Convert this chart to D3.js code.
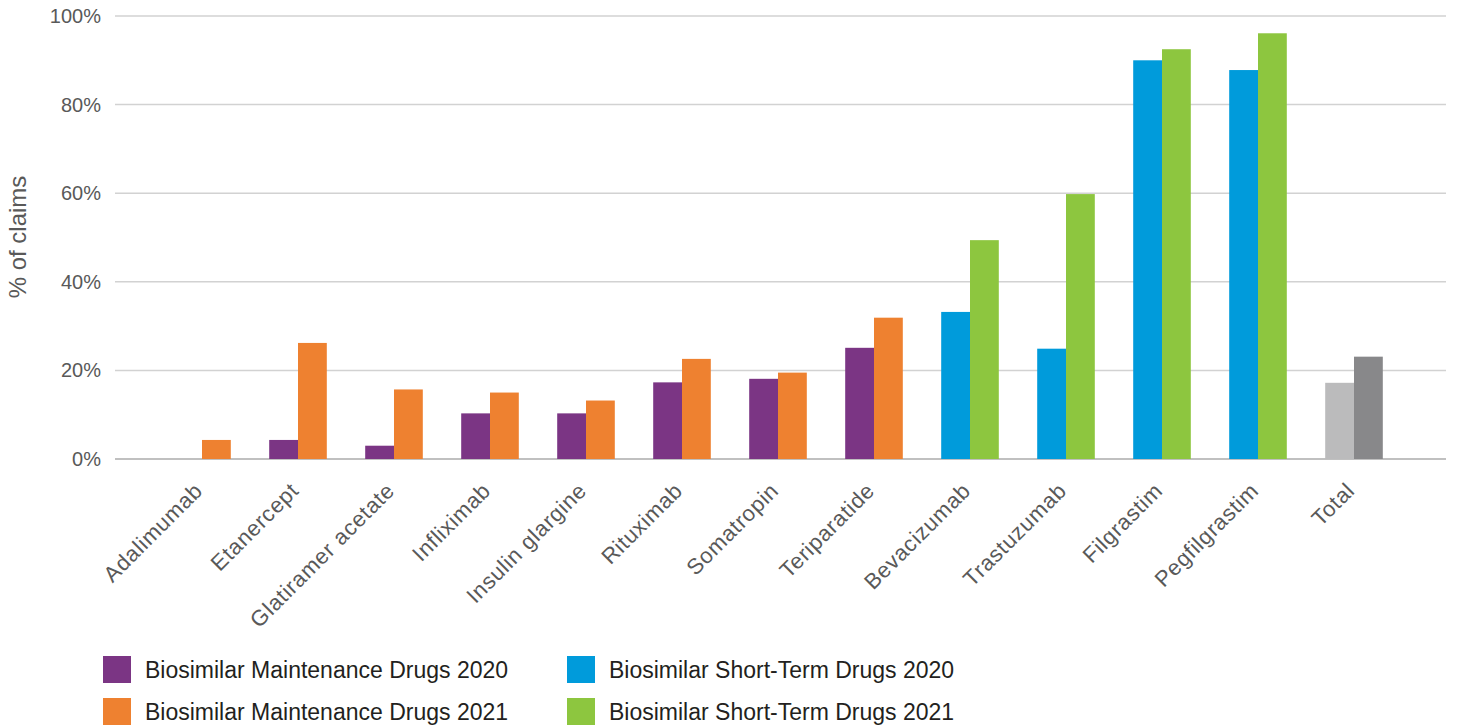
<!DOCTYPE html>
<html>
<head>
<meta charset="utf-8">
<script src="https://cdn.jsdelivr.net/npm/d3@7"></script>
<style>
  body { margin: 0; background: #fff; }
  svg { display: block; font-family: "Liberation Sans", Arial, sans-serif; }
</style>
</head>
<body>
<div id="chart"></div>
<script>
// data (% of claims)
const categories = ["Adalimumab", "Etanercept", "Glatiramer acetate", "Infliximab", "Insulin glargine",
  "Rituximab", "Somatropin", "Teriparatide", "Bevacizumab", "Trastuzumab", "Filgrastim", "Pegfilgrastim", "Total"];
const values2020 = [0, 4.3, 3.0, 10.3, 10.3, 17.3, 18.1, 25.1, 33.2, 24.9, 90.0, 87.8, 17.2];
const values2021 = [4.3, 26.2, 15.7, 15.0, 13.2, 22.6, 19.5, 31.9, 49.4, 59.8, 92.5, 96.1, 23.1];
const groups = ["maint", "maint", "maint", "maint", "maint", "maint", "maint", "maint",
  "short", "short", "short", "short", "total"];
const yTicks = [0, 20, 40, 60, 80, 100];
const legendLabels = ["Biosimilar Maintenance Drugs 2020", "Biosimilar Maintenance Drugs 2021",
  "Biosimilar Short-Term Drugs 2020", "Biosimilar Short-Term Drugs 2021"];

// colours per group: [2020, 2021]
const colors = {
  maint: ["#7b3584", "#ee8130"],
  short: ["#009bdb", "#8dc63f"],
  total: ["#bbbbbc", "#88888a"]
};
const legendColors = ["#7b3584", "#ee8130", "#009bdb", "#8dc63f"];

const width = 1457, height = 727;
const gridLeft = 115, gridRight = 1446;

const svg = d3.select("#chart").append("svg")
  .attr("width", width)
  .attr("height", height);

const x = d3.scaleBand()
  .domain(categories)
  .range([154, 1402])
  .paddingInner(0.4)
  .paddingOuter(0.2);

const y = d3.scaleLinear()
  .domain([0, 100])
  .range([459, 16]);

// gridlines
svg.append("g")
  .selectAll("line")
  .data(yTicks)
  .enter()
  .append("line")
  .attr("x1", gridLeft)
  .attr("x2", gridRight)
  .attr("y1", d => y(d))
  .attr("y2", d => y(d))
  .attr("stroke", d => d === 0 ? "#ababab" : "#d2d2d2")
  .attr("stroke-width", 1.5);

// y tick labels
svg.append("g")
  .selectAll("text")
  .data(yTicks)
  .enter()
  .append("text")
  .attr("x", 101)
  .attr("y", d => y(d) + 7)
  .attr("text-anchor", "end")
  .style("font-size", "20px")
  .style("fill", "#595959")
  .text(d => d + "%");

// y title
svg.append("text")
  .attr("transform", "translate(26,237) rotate(-90)")
  .attr("text-anchor", "middle")
  .style("font-size", "24px")
  .style("fill", "#595959")
  .text("% of claims");

// bars
const rows = categories.map((c, i) => ({ cat: c, v0: values2020[i], v1: values2021[i], g: groups[i] }));
const half = x.bandwidth() / 2;

const grp = svg.append("g")
  .selectAll("g")
  .data(rows)
  .enter()
  .append("g")
  .attr("transform", d => "translate(" + x(d.cat) + ",0)");

grp.append("rect")
  .attr("x", 0)
  .attr("width", half)
  .attr("y", d => y(d.v0))
  .attr("height", d => y(0) - y(d.v0))
  .style("fill", d => colors[d.g][0]);

grp.append("rect")
  .attr("x", half)
  .attr("width", half)
  .attr("y", d => y(d.v1))
  .attr("height", d => y(0) - y(d.v1))
  .style("fill", d => colors[d.g][1]);

// category labels, rotated
svg.append("g")
  .selectAll("text")
  .data(categories)
  .enter()
  .append("text")
  .attr("transform", d => "translate(" + (x(d) + half + 2) + ",492) rotate(-45)")
  .attr("text-anchor", "end")
  .style("font-size", "22px")
  .style("letter-spacing", "0.7px")
  .style("fill", "#595959")
  .text(d => d);

// legend, two columns
const leg = svg.append("g")
  .selectAll("g")
  .data(legendLabels)
  .enter()
  .append("g")
  .attr("transform", (d, i) => "translate(" + (103 + Math.floor(i / 2) * 464) + "," + (656 + (i % 2) * 42) + ")");

leg.append("rect")
  .attr("width", 28)
  .attr("height", 27)
  .style("fill", (d, i) => legendColors[i]);

leg.append("text")
  .attr("x", 42)
  .attr("y", 22)
  .style("font-size", "23px")
  .style("fill", "#231f20")
  .text(d => d);
</script>
</body>
</html>
